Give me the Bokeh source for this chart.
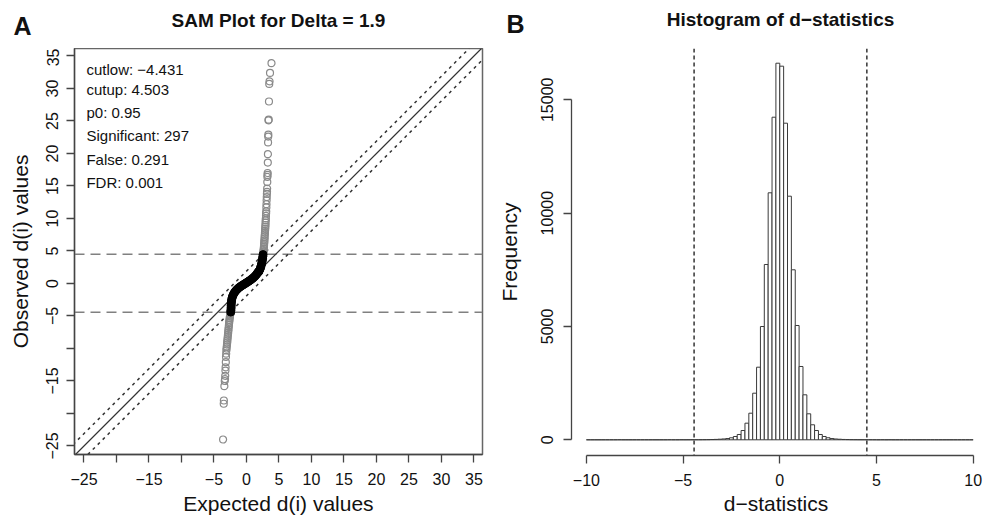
import numpy as np
from bokeh.plotting import figure
from bokeh.models import Span, Slope, Label, FixedTicker, Range1d
from bokeh.layouts import row, column
from bokeh.embed import file_html
from bokeh.resources import INLINE

FONT = "Liberation Sans"

# ---------------- Panel A: SAM plot data ----------------
delta = 1.9
cutlow = -4.431
cutup = 4.503
info_lines = ["cutlow:  \u22124.431", "cutup:  4.503", "p0:  0.95",
              "Significant:  297", "False:  0.291", "FDR:  0.001"]

nonsig_expected = [-2.42, -2.40, -2.38, -2.37, -2.36, -2.35, -2.33, -2.30, -2.26, -2.20,
                   -2.12, -2.02, -1.90, -1.76, -1.60, -1.42, -1.22, -1.02, -0.82, -0.62,
                   -0.42, -0.22, -0.02, 0.18, 0.38, 0.58, 0.78, 0.98, 1.18, 1.38,
                   1.56, 1.72, 1.86, 1.95, 2.08, 2.18, 2.26, 2.33, 2.39, 2.44, 2.48, 2.52, 2.55]
nonsig_observed = [-4.40, -4.15, -3.90, -3.65, -3.40, -3.15, -2.90, -2.65, -2.40, -2.15,
                   -1.92, -1.70, -1.48, -1.27, -1.07, -0.88, -0.70, -0.54, -0.40, -0.27,
                   -0.14, -0.02, 0.11, 0.24, 0.37, 0.51, 0.66, 0.82, 1.00, 1.20,
                   1.42, 1.66, 1.80, 1.92, 2.20, 2.48, 2.76, 3.04, 3.32, 3.60, 3.88, 4.16, 4.44]

sig_up_expected = [2.58, 2.60, 2.62, 2.64, 2.66, 2.68, 2.70, 2.72, 2.74, 2.76,
                   2.78, 2.80, 2.82, 2.84, 2.86, 2.88, 2.90, 2.92, 2.94, 2.96,
                   2.98, 3.00, 3.02, 3.04, 3.06, 3.08, 3.10, 3.12, 3.14, 3.16,
                   3.18, 3.20, 3.22, 3.24, 3.26, 3.28, 3.30, 3.32, 3.34, 3.36,
                   3.38, 3.42, 3.46, 3.50, 3.55, 3.62, 3.85]
sig_up_observed = [4.55, 4.75, 4.95, 5.15, 5.35, 5.6, 5.85, 6.1, 6.35, 6.6,
                   6.9, 7.2, 7.5, 7.8, 8.1, 8.4, 8.7, 9.0, 9.35, 9.7,
                   10.0, 10.4, 10.8, 11.1, 11.7, 12.2, 12.8, 13.3, 13.8, 14.1,
                   14.6, 15.6, 16.4, 16.7, 17.0, 18.6, 19.9, 21.7, 22.6, 22.9,
                   25.1, 25.2, 28.0, 30.7, 31.1, 32.4, 33.9]

sig_low_expected = [-2.46, -2.49, -2.52, -2.55, -2.58, -2.61, -2.64, -2.67, -2.70, -2.73,
                    -2.76, -2.79, -2.82, -2.85, -2.88, -2.91, -2.94, -2.97, -3.00, -3.03,
                    -3.06, -3.09, -3.12, -3.15, -3.18, -3.21, -3.24, -3.27, -3.30, -3.34,
                    -3.40, -3.48, -3.50, -3.60]
sig_low_observed = [-4.50, -4.70, -4.90, -5.10, -5.35, -5.60, -5.85, -6.10, -6.40, -6.70,
                    -7.00, -7.30, -7.60, -7.90, -8.20, -8.50, -8.80, -9.10, -9.40, -9.70,
                    -10.0, -10.3, -10.8, -11.3, -12.1, -12.9, -13.4, -14.2, -14.7, -15.0,
                    -15.8, -18.0, -18.5, -24.0]

sam_ticks = [-25, -20, -15, -10, -5, 0, 5, 10, 15, 20, 25, 30, 35]
sam_tick_labels = {-25: "\u221225", -20: "", -15: "\u221215", -10: "", -5: "\u22125"}

# ---------------- Panel B: histogram data ----------------
hist_edges = np.round(np.linspace(-10, 10, 101), 1)
hist_counts = [0, 0, 0, 0, 0, 0, 0, 0, 1, 0,
               0, 0, 0, 0, 0, 0, 0, 0, 0, 0,
               0, 1, 0, 0, 2, 1, 2, 3, 3, 4,
               6, 8, 12, 18, 27, 38, 55, 88, 146, 234,
               410, 733, 1174, 2056, 3203, 4998, 7734, 10897, 14232, 16614,
               16483, 13968, 10747, 7500, 5043, 3234, 1985, 1147, 662, 410,
               234, 146, 90, 55, 36, 25, 16, 11, 7, 5,
               4, 3, 2, 2, 1, 0, 1, 0, 1, 0,
               0, 0, 0, 0, 0, 0, 0, 0, 0, 0,
               0, 0, 0, 0, 0, 0, 0, 0, 0, 0]
hist_xticks = [-10, -5, 0, 5, 10]
hist_xtick_labels = {-10: "\u221210", -5: "\u22125"}
hist_yticks = [0, 5000, 10000, 15000]

AXIS_COL = "#444444"
TEXT_COL = "#111111"


def style_axis(ax, ticks, overrides, standoff, title, title_standoff, vertical=False):
    ax.ticker = FixedTicker(ticks=ticks)
    ax.major_label_overrides = overrides
    ax.minor_tick_line_color = None
    ax.major_tick_out = 8
    ax.major_tick_in = 0
    ax.major_tick_line_color = AXIS_COL
    ax.major_tick_line_width = 1.3
    ax.axis_line_color = AXIS_COL
    ax.axis_line_width = 1.3
    ax.major_label_text_font = FONT
    ax.major_label_text_font_size = "16px"
    ax.major_label_text_color = TEXT_COL
    ax.major_label_standoff = standoff
    ax.axis_label = title
    ax.axis_label_text_font = FONT
    ax.axis_label_text_font_size = "21px"
    ax.axis_label_text_font_style = "normal"
    ax.axis_label_text_color = TEXT_COL
    ax.axis_label_standoff = title_standoff
    if vertical:
        ax.major_label_orientation = "vertical"


def add_text(p, x, y, text, size, bold=False, align="left", baseline="alphabetic"):
    p.add_layout(Label(x=x, y=y, text=text, text_font=FONT, text_font_size=size,
                       text_font_style="bold" if bold else "normal", text_color=TEXT_COL,
                       text_align=align, text_baseline=baseline))


# ---------------- Header strip (panel letters and titles) ----------------
hdr = figure(title=None, frame_width=983, frame_height=48,
             x_range=Range1d(0, 983), y_range=Range1d(0, 48),
             x_axis_type=None, y_axis_type=None, output_backend="svg", toolbar_location=None,
             min_border=0, outline_line_color=None)
hdr.background_fill_color = "white"
hdr.border_fill_color = "white"
add_text(hdr, 13, 23, "A", "25px", bold=True)
add_text(hdr, 278, 28.5, "SAM Plot for Delta = 1.9", "19px", bold=True, align="center")
add_text(hdr, 506, 25, "B", "25px", bold=True)
add_text(hdr, 780, 29.5, "Histogram of d\u2212statistics", "19px", bold=True, align="center")

# ---------------- Panel A ----------------
p1 = figure(title=None, frame_width=408, frame_height=406,
            x_range=Range1d(-26.46, 36.31), y_range=Range1d(-26.31, 36.15),
            output_backend="svg", toolbar_location=None,
            min_border_left=74, min_border_right=10, min_border_top=0, min_border_bottom=62)
p1.grid.visible = False
p1.outline_line_color = "#666666"
p1.outline_line_width = 1.5
p1.background_fill_color = "white"
p1.border_fill_color = "white"
style_axis(p1.xaxis[0], sam_ticks, sam_tick_labels, 10, "Expected d(i) values", 4)
style_axis(p1.yaxis[0], sam_ticks, sam_tick_labels, 8, "Observed d(i) values", 12,
           vertical=True)

for loc in (cutup, cutlow):
    p1.add_layout(Span(location=loc, dimension="width", line_color="#808080",
                       line_width=1.5, line_dash="10 6", level="underlay"))
p1.add_layout(Slope(gradient=1, y_intercept=0, line_color="#333333", line_width=1.2,
                    level="underlay"))
for off in (delta, -delta):
    p1.add_layout(Slope(gradient=1, y_intercept=off, line_color="#333333", line_width=1.5,
                        line_dash="3 4", level="underlay"))

p1.scatter(sig_up_expected, sig_up_observed, marker="circle", size=7, fill_color=None,
           line_color="#8a8a8a", line_width=1.2)
p1.scatter(sig_low_expected, sig_low_observed, marker="circle", size=7, fill_color=None,
           line_color="#8a8a8a", line_width=1.2)
p1.scatter(nonsig_expected, nonsig_observed, marker="circle", size=8, fill_color="black",
           line_color="black", line_width=1)

info_baselines = [32.95, 29.8, 26.34, 22.8, 19.03, 15.57]
for txt, yb in zip(info_lines, info_baselines):
    add_text(p1, -24.62, yb, txt, "15px")

# ---------------- Panel B ----------------
p2 = figure(title=None, frame_width=409, frame_height=407,
            x_range=Range1d(-10.77, 10.38), y_range=Range1d(-692.6, 17263),
            output_backend="svg", toolbar_location=None,
            min_border_left=79, min_border_right=3, min_border_top=0, min_border_bottom=61)
p2.grid.visible = False
p2.outline_line_color = None
p2.background_fill_color = "white"
p2.border_fill_color = "white"
style_axis(p2.xaxis[0], hist_xticks, hist_xtick_labels, 10, "d\u2212statistics", 3)
style_axis(p2.yaxis[0], hist_yticks, {}, 10, "Frequency", 18, vertical=True)
p2.xaxis[0].bounds = (-10, 10)
p2.yaxis[0].bounds = (0, 15000)

p2.quad(left=hist_edges[:-1], right=hist_edges[1:], bottom=0, top=hist_counts,
        fill_color="white", line_color="#3a3a3a", line_width=1)

for loc in (cutlow, cutup):
    p2.add_layout(Span(location=loc, dimension="height", line_color="#333333",
                       line_width=1.5, line_dash="4 3"))

layout = column(hdr, row(p1, p2))
open("out.html", "w").write(file_html(layout, INLINE))
